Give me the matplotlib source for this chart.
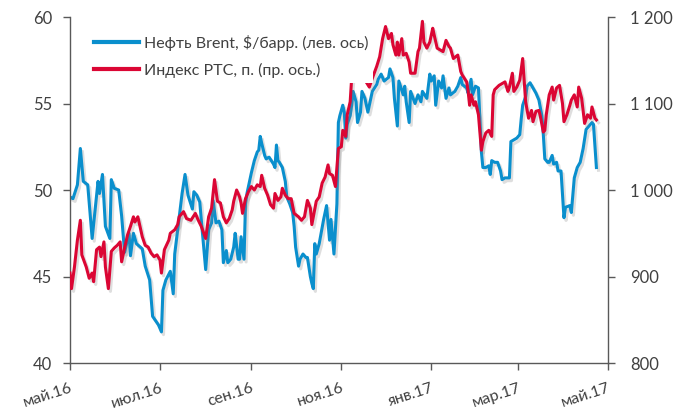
import numpy as np
import pandas as pd
import matplotlib
matplotlib.use("Agg")
import matplotlib.pyplot as plt
import matplotlib.patheffects as pe
from matplotlib.ticker import MultipleLocator, FuncFormatter

plt.rcParams['font.family'] = ['Lato', 'DejaVu Sans']

start = pd.Timestamp('2016-05-01')

# Brent, $/bbl (left axis): days since 1 May 2016
brent_days = [0, 2, 5, 7, 9, 12, 15, 19, 20, 22, 24, 27, 28, 30, 33, 35, 37, 40, 41, 43,
              45, 49, 51, 54, 56, 60, 62, 63, 65, 68, 70, 71, 73, 76, 78, 80, 83, 84, 86, 88,
              89, 92, 94, 96, 97, 99, 101, 103, 104, 106, 107, 109, 111, 112, 114, 115, 116, 118, 119, 120,
              122, 123, 125, 127, 128, 129, 130, 132, 133, 135, 138, 139, 140, 141, 142, 144, 146, 147, 149, 151,
              152, 153, 155, 156, 158, 160, 161, 163, 164, 165, 166, 167, 169, 172, 174, 176, 177, 179, 181,
              182, 183, 185, 186, 187, 188, 190, 191, 192, 194, 195, 197, 198, 200, 202, 204, 205, 208, 209, 211,
              213, 216, 217, 219, 220, 222, 223, 226, 227, 228, 230, 231, 234, 236, 238, 239, 242, 244, 245, 247,
              248, 250, 252, 253, 255, 257, 258, 261, 263, 265, 266, 269,
              270, 272, 273, 275, 277, 279, 280, 282, 284, 285, 286, 288, 290, 292, 293, 295, 296, 298, 299, 301,
              303, 305, 306, 307, 309, 310, 312, 314, 316, 318, 320, 321, 322, 324, 325, 327, 328, 330, 331, 333,
              334, 335, 336, 339, 340, 342, 344, 346, 348, 350, 352, 354, 355, 357]
brent = [49.6, 49.5, 50.3, 52.4, 50.5, 50.3, 47.2, 50.5, 49.8, 50.9, 47.9, 47.2, 50.6, 50.1, 50.0, 48.5, 46.4, 47.5, 46.2, 47.5,
         46.9, 46.6, 45.6, 44.8, 42.7, 42.2, 41.8, 44.2, 44.8, 45.3, 44.0, 46.3, 47.7, 49.8, 50.9, 49.7, 48.9, 49.9, 49.7, 49.3,
         48.3, 45.4, 47.7, 48.1, 49.4, 48.1, 48.2, 47.7, 45.8, 46.5, 45.8, 46.0, 46.7, 47.5, 46.0, 46.0, 47.3, 46.0, 49.2, 49.8,
         50.6, 51.0, 51.7, 52.2, 52.3, 53.1, 52.7, 52.0, 51.8, 51.9, 51.5, 51.3, 52.6, 51.7, 51.6, 51.3, 50.5, 49.6, 49.2, 48.7,
         47.9, 46.7, 45.6, 46.0, 46.3, 46.1, 46.1, 45.0, 44.6, 44.3, 46.9, 46.3, 46.9, 48.3, 49.1, 47.1, 48.3, 46.3, 49.2,
         53.9, 54.3, 54.9, 54.5, 53.0, 53.8, 54.3, 54.9, 55.7, 55.1, 53.9, 54.5, 55.7, 55.3, 54.5, 55.3, 55.7, 56.1, 56.4, 56.7,
         56.3, 56.5, 57.0, 56.5, 55.3, 53.7, 56.3, 55.5, 56.0, 55.1, 53.9, 55.7, 55.0, 55.5, 55.1, 55.7, 55.3, 56.7, 56.3, 56.6,
         54.9, 56.3, 55.9, 56.6, 55.3, 55.9, 55.5, 55.7, 56.0, 56.5, 56.1, 55.9,
         55.6, 56.4, 55.5, 56.0, 55.9, 52.2, 51.3, 51.3, 51.4, 50.9, 51.7, 51.6, 51.6, 51.1, 50.6, 50.7, 50.7, 50.7, 52.8, 52.9,
         53.0, 53.2, 54.1, 54.9, 55.4, 56.0, 56.2, 55.9, 55.6, 55.2, 54.3, 53.2, 51.8, 51.6, 51.6, 52.0, 51.5, 51.6, 51.1, 51.1,
         49.7, 48.4, 49.0, 49.1, 48.7, 50.7, 51.3, 51.6, 52.4, 53.5, 53.7, 53.9, 53.8, 51.3]

# RTS index, points (right axis)
rts_days = [0, 1, 3, 5, 7, 8, 11, 13, 15, 16, 18, 20, 21, 23, 24, 26, 28, 30, 32, 34,
            35, 37, 39, 41, 43, 44, 46, 49, 51, 53, 55, 57, 59, 61, 62, 64, 67, 68, 71, 73,
            74, 77, 79, 82, 85, 87, 89, 92, 94, 96, 98, 100, 102, 104, 106, 108, 110, 111, 113, 115,
            116, 117, 119, 121, 123, 125, 127, 129, 130, 132, 134, 136, 138, 139, 141, 143, 144, 146, 148, 150,
            152, 155, 157, 159, 161, 163, 164, 165, 167, 169, 171, 173, 175, 176, 178, 180, 182, 184, 185, 187,
            188, 190, 191, 194, 196, 199, 203, 205, 208, 210, 212, 214, 216, 218, 219, 221, 222, 223, 225, 226,
            228, 230, 231, 234, 236, 237, 239, 240, 242, 244, 246, 247, 249, 251, 253, 255, 257, 258, 260, 263,
            265, 266, 269, 270, 271, 272, 274, 275, 277, 278, 279, 280, 282, 284, 286, 287, 288, 291, 293, 295,
            297, 298, 300, 301, 303, 305, 307, 308, 309, 311, 313, 314, 316, 318, 319, 321, 322, 323, 325, 327,
            328, 330, 332, 334, 335, 337, 339, 340, 342, 344, 345, 347, 349, 351, 353, 354, 356, 357]
rts = [904, 886, 911, 942, 965, 925, 911, 898, 904, 894, 931, 934, 923, 940, 911, 886, 929, 933, 936, 940,
       917, 933, 948, 958, 969, 963, 969, 946, 936, 934, 927, 923, 925, 919, 904, 931, 942, 950, 954, 960,
       969, 975, 967, 965, 973, 965, 958, 944, 969, 979, 1012, 987, 985, 969, 962, 967, 977, 987, 1000, 992,
       985, 973, 990, 998, 1004, 1000, 1006, 1004, 1017, 1002, 994, 983, 979, 996, 988, 992, 1002, 994, 990, 990,
       973, 969, 965, 969, 988, 979, 960, 969, 987, 992, 1008, 1015, 1029, 1019, 1017, 1004, 1048, 1050, 1069, 1062,
       1087, 1102, 1129, 1135, 1140, 1130, 1119, 1129, 1143, 1154, 1175, 1189, 1175, 1181, 1168, 1156, 1171, 1156, 1175, 1156,
       1158, 1148, 1135, 1135, 1160, 1164, 1195, 1171, 1164, 1171, 1187, 1179, 1164, 1162, 1160, 1173, 1166, 1164, 1152, 1156,
       1137, 1133, 1125, 1114, 1098, 1110, 1098, 1102, 1087, 1067, 1046, 1056, 1066, 1069, 1062, 1110, 1116, 1121, 1123, 1125,
       1114, 1119, 1135, 1114, 1119, 1127, 1152, 1127, 1102, 1083, 1092, 1079, 1091, 1092, 1085, 1067, 1069, 1087, 1110, 1119,
       1104, 1118, 1121, 1100, 1079, 1087, 1098, 1104, 1110, 1096, 1119, 1106, 1077, 1087, 1083, 1096, 1083, 1081]

tick_dates = ['2016-05-01', '2016-07-01', '2016-09-01', '2016-11-01', '2017-01-01', '2017-03-01', '2017-05-01']
tick_labels = ['май.16', 'июл.16', 'сен.16', 'ноя.16', 'янв.17', 'мар.17', 'май.17']

blue = '#0a8fcd'
red = '#db0634'
grey = '#595959'
txt = '#404040'

bx = start + pd.to_timedelta(brent_days, unit='D')
rx = start + pd.to_timedelta(rts_days, unit='D')

fig = plt.figure(figsize=(6.92, 4.12), dpi=100)
ax = fig.add_axes([0.1012, 0.1189, 0.7777, 0.8398])
ax2 = ax.twinx()

shadow = [pe.SimpleLineShadow(offset=(1.5, -2), shadow_color='#7f7f7f', alpha=0.25), pe.Normal()]
l1, = ax.plot(bx, brent, color=blue, lw=2.2, path_effects=shadow, solid_joinstyle='round')
l2, = ax2.plot(rx, rts, color=red, lw=2.2, path_effects=shadow, solid_joinstyle='round')

ax.set_ylim(40, 60)
ax2.set_ylim(800, 1200)
ax.yaxis.set_major_locator(MultipleLocator(5))
ax2.yaxis.set_major_locator(MultipleLocator(100))
ax2.yaxis.set_major_formatter(FuncFormatter(lambda v, p: f"{int(v):,}".replace(',', ' ')))

ax.set_xlim(pd.Timestamp('2016-05-01'), pd.Timestamp('2017-05-01'))
ax.set_xticks(pd.to_datetime(tick_dates))
ax.set_xticklabels(tick_labels, rotation=18, ha='right', rotation_mode='anchor')

for a in (ax, ax2):
    a.spines['top'].set_visible(False)
    for s in ('left', 'right', 'bottom'):
        a.spines[s].set_color(grey)
        a.spines[s].set_linewidth(1.0)
    a.tick_params(colors=grey, labelcolor=txt, length=5, width=1.0)
ax.spines['right'].set_visible(False)
ax2.spines['left'].set_visible(False)
ax2.spines['bottom'].set_visible(False)
ax.tick_params(axis='y', labelsize=12, pad=8)
ax2.tick_params(axis='y', labelsize=12, pad=11)
ax.tick_params(axis='x', labelsize=11.5, pad=8)

leg = ax2.legend([l1, l2], ['Нефть Brent, $/барр. (лев. ось)', 'Индекс РТС, п. (пр. ось.)'],
                 loc='upper left', bbox_to_anchor=(0.036, 0.962), borderaxespad=0,
                 fontsize=11.5, handlelength=2.8, handletextpad=0.3, labelspacing=0.75,
                 frameon=True, fancybox=False, borderpad=0.3)
leg.get_frame().set_edgecolor('none')
leg.get_frame().set_facecolor('white')
leg.get_frame().set_alpha(1)
for t in leg.get_texts():
    t.set_color(txt)
for h in leg.legend_handles:
    h.set_path_effects([])
    h.set_linewidth(3.0)

fig.savefig('out.png', dpi=100)
